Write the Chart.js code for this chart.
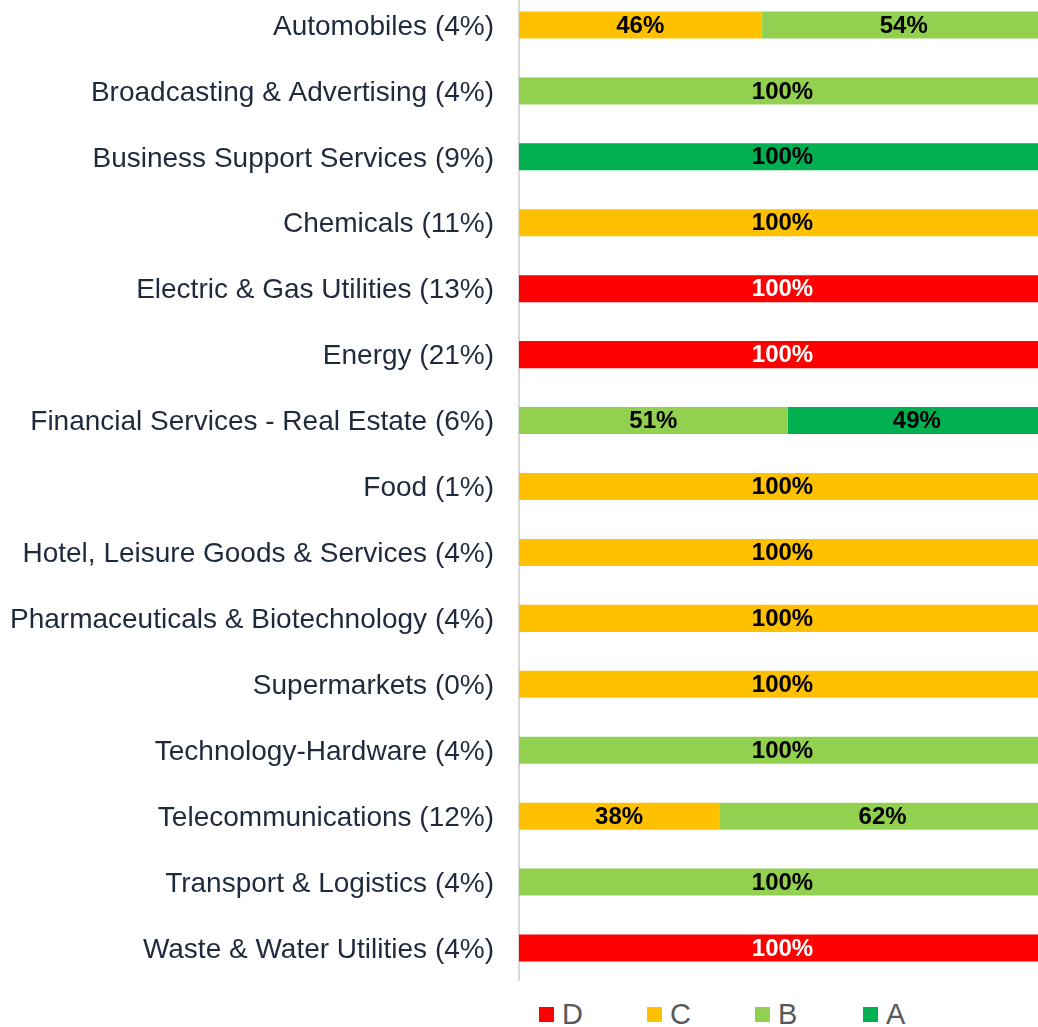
<!DOCTYPE html>
<html>
<head>
<meta charset="utf-8">
<script src="https://cdn.jsdelivr.net/npm/chart.js@4"></script>
<style>
  html, body { margin: 0; padding: 0; background: #fff; overflow: hidden; }
  #wrap { position: relative; width: 1038px; height: 1027px; overflow: hidden; }
  #box { position: absolute; left: 0; top: -8px; width: 1046px; height: 989px; }
  #legend { position: absolute; left: 539px; top: 998px; display: flex;
            font-family: Arial, "Liberation Sans", sans-serif; font-size: 29px; color: #595959; }
  #legend .item { width: 108px; display: flex; align-items: center; }
  #legend .sw { width: 15px; height: 15px; margin-right: 8px; }
</style>
</head>
<body>
<div id="wrap">
  <div id="box"><canvas id="chart"></canvas></div>
  <div id="legend"></div>
</div>
<script>
const categories = [
  'Automobiles (4%)',
  'Broadcasting & Advertising (4%)',
  'Business Support Services (9%)',
  'Chemicals (11%)',
  'Electric & Gas Utilities (13%)',
  'Energy (21%)',
  'Financial Services - Real Estate (6%)',
  'Food (1%)',
  'Hotel, Leisure Goods & Services (4%)',
  'Pharmaceuticals & Biotechnology (4%)',
  'Supermarkets (0%)',
  'Technology-Hardware (4%)',
  'Telecommunications (12%)',
  'Transport & Logistics (4%)',
  'Waste & Water Utilities (4%)'
];
const seriesNames = ['D', 'C', 'B', 'A'];
const valuesD = [0, 0, 0, 0, 100, 100, 0, 0, 0, 0, 0, 0, 0, 0, 100];
const valuesC = [46, 0, 0, 100, 0, 0, 0, 100, 100, 100, 100, 0, 38, 0, 0];
const valuesB = [54, 100, 0, 0, 0, 0, 51, 0, 0, 0, 0, 100, 62, 100, 0];
const valuesA = [0, 0, 100, 0, 0, 0, 49, 0, 0, 0, 0, 0, 0, 0, 0];

const colors = ['#ff0000', '#ffc000', '#92d050', '#00b050'];
const labelColors = ['#ffffff', '#000000', '#000000', '#000000'];
const FONT = 'Arial, "Liberation Sans", sans-serif';

// draws the percentage in the middle of each segment
const barLabels = {
    id: 'barLabels',
    afterDatasetsDraw(chart) {
        const ctx = chart.ctx;
        ctx.save();
        ctx.textAlign = 'center';
        ctx.textBaseline = 'middle';
        ctx.font = 'bold 24px ' + FONT;
        chart.data.datasets.forEach((ds, i) => {
            const meta = chart.getDatasetMeta(i);
            meta.data.forEach((el, j) => {
                const v = ds.data[j];
                if (!v) return;
                ctx.fillStyle = labelColors[i];
                ctx.fillText(v + '%', (el.x + el.base) / 2, el.y + 1);
            });
        });
        ctx.restore();
    }
};

const datasets = [valuesD, valuesC, valuesB, valuesA].map((vals, i) => ({
    label: seriesNames[i],
    data: vals,
    backgroundColor: colors[i],
    borderWidth: 0,
    barPercentage: 0.41,
    categoryPercentage: 1
}));

new Chart(document.getElementById('chart'), {
    type: 'bar',
    data: { labels: categories, datasets: datasets },
    options: {
        indexAxis: 'y',
        responsive: true,
        maintainAspectRatio: false,
        animation: false,
        layout: { padding: 0 },
        plugins: {
            legend: { display: false },
            tooltip: { enabled: false }
        },
        scales: {
            x: {
                stacked: true,
                min: 0,
                max: 100,
                display: false
            },
            y: {
                stacked: true,
                grid: { display: false, drawTicks: false },
                border: { display: true, color: '#d9d9d9', width: 2 },
                ticks: {
                    color: '#1f2a3c',
                    font: { family: FONT, size: 28 },
                    padding: 25,
                    labelOffset: 2,
                    autoSkip: false
                },
                afterFit(scale) {
                    scale.width = 519;
                    scale.paddingTop = 0;
                    scale.paddingBottom = 0;
                }
            }
        }
    },
    plugins: [barLabels]
});

// legend below the plot
const legend = document.getElementById('legend');
seriesNames.forEach((name, i) => {
    const item = document.createElement('div');
    item.className = 'item';
    const sw = document.createElement('span');
    sw.className = 'sw';
    sw.style.background = colors[i];
    const txt = document.createElement('span');
    txt.textContent = name;
    item.appendChild(sw);
    item.appendChild(txt);
    legend.appendChild(item);
});
</script>
</body>
</html>
